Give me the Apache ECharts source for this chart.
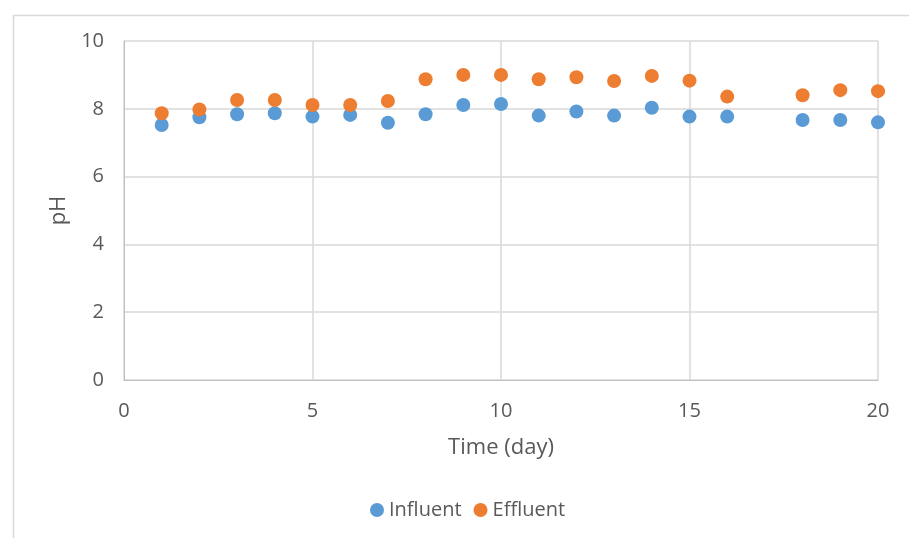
<!DOCTYPE html>
<html><head><meta charset="utf-8">
<script src="https://cdn.jsdelivr.net/npm/echarts@6/dist/echarts.min.js"></script>
<style>html,body{margin:0;padding:0;background:#fff}#c{width:909px;height:538px}</style>
</head><body><div id="c"></div>
<script>
const days = [1,2,3,4,5,6,7,8,9,10,11,12,13,14,15,16,18,19,20];
const influent = [7.52,7.75,7.84,7.87,7.77,7.82,7.59,7.84,8.11,8.14,7.80,7.92,7.80,8.03,7.77,7.77,7.67,7.67,7.60];
const effluent = [7.87,7.98,8.26,8.26,8.11,8.11,8.23,8.87,9.00,9.00,8.87,8.93,8.82,8.97,8.83,8.36,8.40,8.55,8.52];
const seriesNames = ['Influent','Effluent'];
const xTitle = 'Time (day)';
const yTitle = 'pH';

const font = '"Open Sans", Carlito, sans-serif';
const chart = echarts.init(document.getElementById('c'));
chart.setOption({
  animation: false,
  textStyle: {fontFamily: font},
  graphic: [{type:'rect', left:11, top:13, shape:{width:920, height:560}, style:{fill:'none', stroke:'#d9d9d9', lineWidth:1.5}, silent:true}],
  grid: {left:124, right:31, top:41, bottom:158},
  legend: {
    bottom: 13, left: 365, icon: 'circle', itemWidth: 14, itemHeight: 14, itemGap: 12,
    textStyle: {color:'#595959', fontSize:20, fontFamily: font},
    data: seriesNames
  },
  xAxis: {
    type:'value', min:0, max:20, interval:5,
    name: xTitle, nameLocation:'middle', nameGap:57,
    nameTextStyle:{color:'#595959', fontSize:22, fontFamily: font},
    axisLine:{show:true, lineStyle:{color:'#bfbfbf'}},
    axisTick:{show:false},
    axisLabel:{color:'#595959', fontSize:20, margin:21, fontFamily: font},
    splitLine:{show:true, lineStyle:{color:'#d9d9d9', width:1.5}}
  },
  yAxis: {
    type:'value', min:0, max:10, interval:2,
    name: yTitle, nameLocation:'middle', nameGap:48, nameRotate:90,
    nameTextStyle:{color:'#595959', fontSize:22, fontFamily: font},
    axisLine:{show:true, lineStyle:{color:'#bfbfbf'}},
    axisTick:{show:false},
    axisLabel:{color:'#595959', fontSize:20, margin:20, fontFamily: font},
    splitLine:{show:true, lineStyle:{color:'#d9d9d9', width:1.5}}
  },
  series: [
    {name: seriesNames[0], type:'scatter', symbolSize:14, itemStyle:{color:'#5B9BD5', opacity:1},
     data: days.map((d,i)=>[d, influent[i]])},
    {name: seriesNames[1], type:'scatter', symbolSize:14, itemStyle:{color:'#ED7D31', opacity:1},
     data: days.map((d,i)=>[d, effluent[i]])}
  ]
});
</script></body></html>
